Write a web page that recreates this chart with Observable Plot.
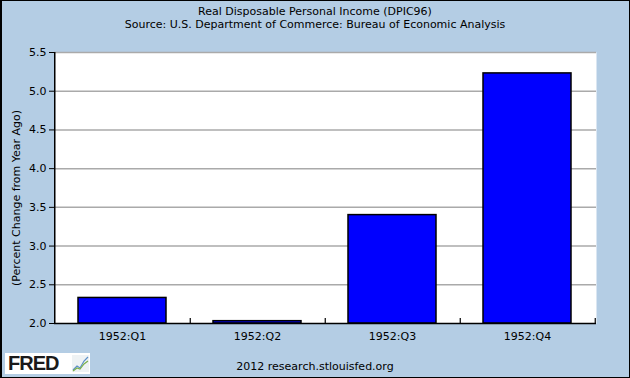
<!DOCTYPE html>
<html>
<head>
<meta charset="utf-8">
<script src="https://cdn.jsdelivr.net/npm/d3@7"></script>
<script src="https://cdn.jsdelivr.net/npm/@observablehq/plot@0.6"></script>
<style>
  html, body { margin: 0; padding: 0; background: #b4cde4; }
  #wrap { position: relative; width: 630px; height: 378px; background: #b4cde4; overflow: hidden; font-family: "DejaVu Sans", sans-serif; color: #000; }
  #wrap svg.plot { position: absolute; left: 0; top: 0; }
  .t { position: absolute; left: 0; width: 630px; text-align: center; font-size: 11px; white-space: nowrap; }
  #ylab { position: absolute; left: 16px; top: 198px; transform: translate(-50%, -50%) rotate(-90deg); font-size: 11px; white-space: nowrap; }
  #logo { position: absolute; left: 5px; top: 353px; width: 85px; height: 21px; background: #fff; }
  #logo span { position: absolute; left: 3px; top: 0px; font-family: "Liberation Sans", Arial, sans-serif; font-weight: bold; font-size: 20px; letter-spacing: -1px; line-height: 21px; color: #1a1a1a; }
  #logo svg { position: absolute; left: 67px; top: 2px; }
  #border { position: absolute; left: 0; top: 0; width: 630px; height: 378px; box-sizing: border-box; border: 1px solid #000; border-left-width: 2px; pointer-events: none; }
</style>
</head>
<body>
<div id="wrap">
  <div class="t" style="top:5px">Real Disposable Personal Income (DPIC96)</div>
  <div class="t" style="top:18px">Source: U.S. Department of Commerce: Bureau of Economic Analysis</div>
  <div id="ylab">(Percent Change from Year Ago)</div>
  <div class="t" style="top:360px">2012 research.stlouisfed.org</div>
  <div id="logo"><span>FRED</span>
    <svg width="17" height="17" viewBox="0 0 17 17">
      <rect x="0" y="0" width="17" height="17" fill="#eef2f4"/>
      <polyline points="1,15 5,11 8,13 12,6 16,2" fill="none" stroke="#5b8fc8" stroke-width="1.2"/>
      <polyline points="1,16 5,13 8,14 12,9 16,6" fill="none" stroke="#7ab04a" stroke-width="1.2"/>
    </svg>
  </div>
  <div id="border"></div>
</div>
<script>
const quarters = ["1952:Q1", "1952:Q2", "1952:Q3", "1952:Q4"];
const values = [2.33, 2.03, 3.40, 5.23];
const yTicks = [2.0, 2.5, 3.0, 3.5, 4.0, 4.5, 5.0, 5.5];

const data = quarters.map((q, i) => ({q, v: values[i]}));

const W = 630, H = 378;
const mL = 54, mR = 34, mT = 52, mB = 55;
const step = (W - mL - mR) / quarters.length;
const yMin = yTicks[0], yMax = yTicks[yTicks.length - 1];
const tickLen = (yMax - yMin) / (H - mT - mB) * 5;

const chart = Plot.plot({
  width: W,
  height: H,
  marginLeft: mL,
  marginRight: mR,
  marginTop: mT,
  marginBottom: mB,
  style: {fontFamily: "DejaVu Sans, sans-serif", fontSize: "11px", background: "transparent", color: "#000", overflow: "visible"},
  x: {domain: quarters, paddingInner: 0.347, paddingOuter: 0.1735, align: 0.5},
  y: {domain: [yMin, yMax]},
  marks: [
    Plot.frame({fill: "white", stroke: "none"}),
    Plot.ruleY(yTicks.slice(1), {stroke: "#aaaaaa", strokeWidth: 1.5}),
    Plot.barY(data, {x: "q", y1: () => yMin, y2: "v", fill: "#0000ff", stroke: "#000", strokeWidth: 1.5}),
    Plot.ruleY([yMin], {stroke: "#000", strokeWidth: 1.5}),
    Plot.ruleX([quarters[0]], {dx: -step / 2, y1: yMin, y2: yMax, stroke: "#000", strokeWidth: 1.5}),
    Plot.ruleX(quarters, {x: d => d, dx: step / 2, y1: yMin, y2: yMin + tickLen, stroke: "#000", strokeWidth: 1.2}),
    Plot.axisY(yTicks, {tickSize: 5, tickPadding: 3, tickFormat: d3.format(".1f"), label: null, stroke: "#000", fill: "#000"}),
    Plot.axisX({tickSize: 0, tickPadding: 9, label: null, fill: "#000"})
  ]
});
chart.classList.add("plot");
document.getElementById("wrap").insertBefore(chart, document.getElementById("border"));
</script>
</body>
</html>
